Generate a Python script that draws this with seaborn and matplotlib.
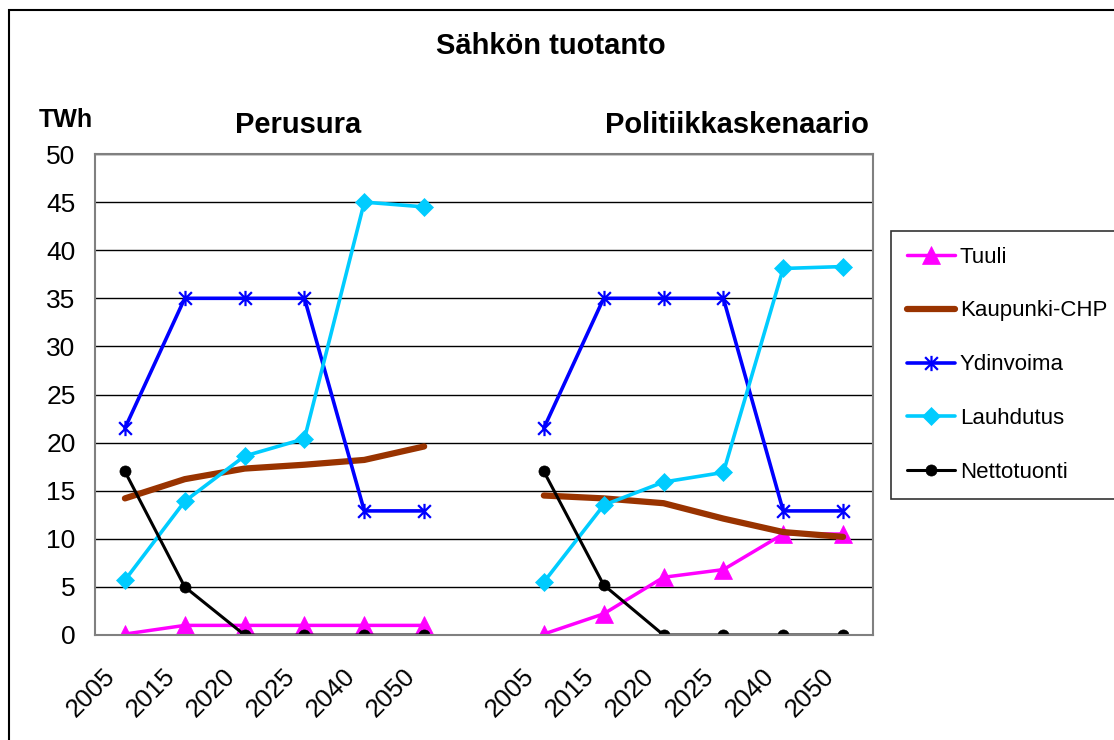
import numpy as np
import pandas as pd
import seaborn as sns
import matplotlib.pyplot as plt
from matplotlib.lines import Line2D
from matplotlib.path import Path
from matplotlib.patches import Rectangle

sns.set_style("white")
plt.rcParams["font.family"] = ["Liberation Sans", "DejaVu Sans"]
plt.rcParams["text.color"] = "black"
plt.rcParams["xtick.labelcolor"] = "black"
plt.rcParams["ytick.labelcolor"] = "black"

# arvot luettu kuvasta (TWh)
years = ["2005", "2015", "2020", "2025", "2040", "2050"]
scenarios = ["Perusura", "Politiikkaskenaario"]

tuuli_perus = [0.1, 1.0, 1.0, 1.0, 1.0, 1.0]
tuuli_polit = [0.1, 2.2, 6.0, 6.8, 10.5, 10.5]
chp_perus = [14.2, 16.2, 17.3, 17.7, 18.2, 19.6]
chp_polit = [14.5, 14.2, 13.7, 12.1, 10.7, 10.2]
ydin_perus = [21.5, 35.0, 35.0, 35.0, 12.9, 12.9]
ydin_polit = [21.5, 35.0, 35.0, 35.0, 12.9, 12.9]
lauh_perus = [5.7, 13.9, 18.6, 20.4, 45.0, 44.5]
lauh_polit = [5.5, 13.5, 15.9, 16.9, 38.1, 38.3]
netto_perus = [17.0, 5.0, 0.0, 0.0, 0.0, 0.0]
netto_polit = [17.0, 5.2, 0.0, 0.0, 0.0, 0.0]

series = {
    "Tuuli": (tuuli_perus, tuuli_polit),
    "Kaupunki-CHP": (chp_perus, chp_polit),
    "Ydinvoima": (ydin_perus, ydin_polit),
    "Lauhdutus": (lauh_perus, lauh_polit),
    "Nettotuonti": (netto_perus, netto_polit),
}

# kategoriat: 6 vuotta, tyhjä väli, 6 vuotta
cat_labels = years + [""] + years
rows = []
for name, (perus, polit) in series.items():
    for i, v in enumerate(perus):
        rows.append((name, scenarios[0], i, v))
    for i, v in enumerate(polit):
        rows.append((name, scenarios[1], i + 7, v))
df = pd.DataFrame(rows, columns=["sarja", "skenaario", "pos", "TWh"])

# Excelin tähtimerkki: X + pystyviiva
star = Path([[-1, -1], [1, 1], [-1, 1], [1, -1], [0, -1.2], [0, 1.2]],
            [Path.MOVETO, Path.LINETO, Path.MOVETO, Path.LINETO, Path.MOVETO, Path.LINETO])

styles = {
    "Tuuli": dict(color="#FF00FF", marker="^", markersize=13, linewidth=2.5),
    "Kaupunki-CHP": dict(color="#993300", marker=None, markersize=0, linewidth=4.5),
    "Ydinvoima": dict(color="#0000FF", marker=star, markersize=11, linewidth=2.6),
    "Lauhdutus": dict(color="#00CCFF", marker="D", markersize=9.5, linewidth=2.6),
    "Nettotuonti": dict(color="black", marker="o", markersize=8, linewidth=2.2),
}


def marker_kw(name):
    st = styles[name]
    if st["marker"] is None:
        return {}
    return dict(marker=st["marker"], markersize=st["markersize"],
                markeredgecolor=st["color"], markerfacecolor=st["color"],
                markeredgewidth=1.6 if name == "Ydinvoima" else 0.5)


fig = plt.figure(figsize=(11.14, 7.40), dpi=100)
ax = fig.add_axes([95 / 1114, 1 - 635 / 740, 778 / 1114, 481 / 740])

for name in series:
    st = styles[name]
    for sc in scenarios:
        d = df[(df.sarja == name) & (df.skenaario == sc)]
        sns.lineplot(data=d, x="pos", y="TWh", ax=ax, legend=False,
                     color=st["color"], linewidth=st["linewidth"], **marker_kw(name))

ax.set_xlim(-0.5, 12.5)
ax.set_ylim(0, 50)
ax.set_yticks(range(0, 51, 5))
ax.set_xticks(np.arange(13) - 0.36)
ax.set_xticklabels(cat_labels, rotation=45, ha="right", rotation_mode="anchor")
ax.set_xticks(np.arange(-0.5, 13, 1), minor=True)
ax.tick_params(axis="x", which="major", length=0, pad=21, labelsize=18.5)
ax.tick_params(axis="x", which="minor", length=6, width=1.2, color="#808080", direction="out")
ax.tick_params(axis="y", length=6, width=1.2, color="#808080", direction="out", pad=8, labelsize=19)
ax.set_xlabel("")
ax.set_ylabel("")
ax.grid(axis="y", color="black", linewidth=1)
ax.set_axisbelow(True)
for sp in ax.spines.values():
    sp.set_color("#808080")
    sp.set_linewidth(1.5)
    sp.set_visible(True)

# otsikot
fig.text(551 / 1114, 1 - 46 / 740, "Sähkön tuotanto", ha="center", va="center",
         fontsize=21, fontweight="bold")
fig.text(298 / 1114, 1 - 125 / 740, "Perusura", ha="center", va="center",
         fontsize=21, fontweight="bold")
fig.text(737 / 1114, 1 - 125 / 740, "Politiikkaskenaario", ha="center", va="center",
         fontsize=21, fontweight="bold")
fig.text(66 / 1114, 1 - 120 / 740, "TWh", ha="center", va="center",
         fontsize=18, fontweight="bold")

# selite
handles = [Line2D([], [], color=styles[n]["color"], linewidth=styles[n]["linewidth"],
                  **marker_kw(n)) for n in series]
leg = fig.legend(handles, list(series), loc="upper left",
                 bbox_to_anchor=(891 / 1114, 1 - 231 / 740), fontsize=16,
                 frameon=True, fancybox=False, edgecolor="black", borderaxespad=0,
                 handlelength=2.2, handletextpad=0.2, labelspacing=1.48,
                 borderpad=0.7)
leg.get_frame().set_linewidth(1.2)

# kaavion reunus
fig.patches.append(Rectangle((9 / 1114, -0.1), 1.2, 1.1 - 10 / 740, fill=False,
                             edgecolor="black", linewidth=1.5,
                             transform=fig.transFigure, figure=fig))

fig.savefig("out.png", dpi=100)
